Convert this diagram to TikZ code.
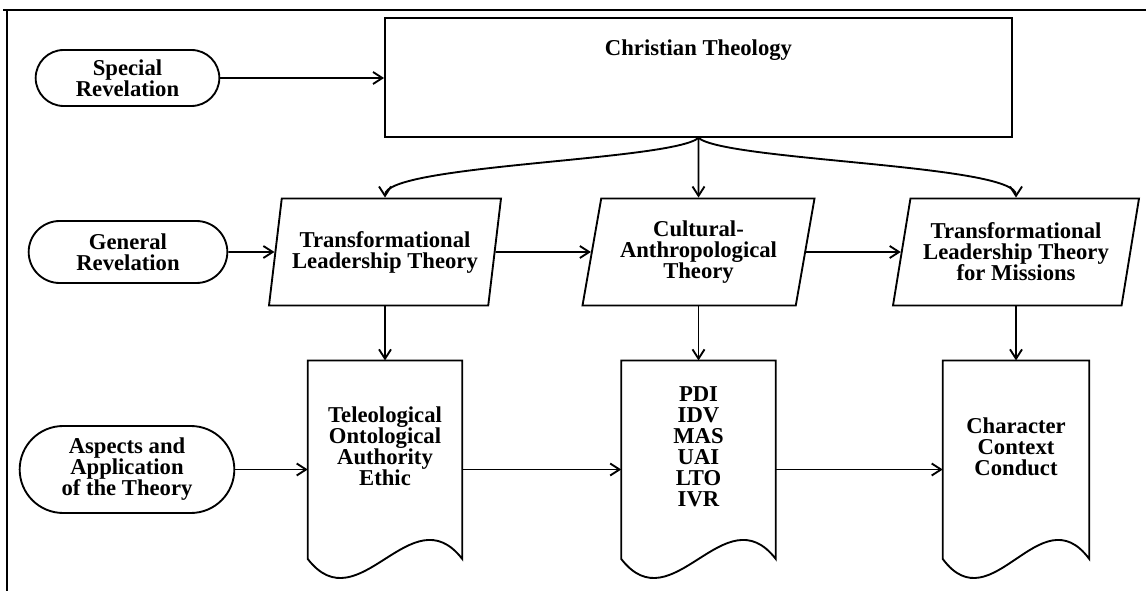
\documentclass[tikz,border=0pt]{standalone}
\usepackage{fontspec}
\setmainfont{Liberation Serif}
\usetikzlibrary{shapes.geometric,shapes.misc,arrows.meta,positioning,calc}

\begin{document}
\begin{tikzpicture}[
    x=0.75pt, y=-0.75pt,
    node distance=40.5pt,
    box/.style={draw, rectangle, line width=1.4pt, minimum width=470.25pt, minimum height=89.25pt, font=\bfseries\fontsize{17}{15.75}\selectfont},
    src/.style={draw, rounded rectangle, line width=1.4pt, align=center, inner sep=2pt, font=\bfseries\fontsize{17}{15.75}\selectfont},
    theory/.style={draw, trapezium, trapezium left angle=74, trapezium right angle=106, trapezium stretches body, minimum width=174pt, minimum height=80.25pt, line width=1.4pt, align=center, inner sep=1pt, font=\bfseries\fontsize{17}{15.75}\selectfont},
    docbox/.style={rectangle, minimum width=115.5pt, minimum height=129pt, inner sep=0pt, align=center, font=\bfseries\fontsize{17}{15.75}\selectfont},
    arrow/.style={-{Straight Barb[length=7pt,width=9pt]}, line width=1.4pt},
]
    \useasboundingbox (0,0) rectangle (1146,591);

    % Frame
    \draw[line width=1.2pt] (3,10) -- (1146,10);
    \draw[line width=1.2pt] (7,10) -- (7,591);

    % Theology on top
    \node[box, text height=12pt, text depth=45pt] (theo) at (698.5,77.5) {Christian Theology};

    % Sources on the left
    \node[src, minimum width=141.75pt, minimum height=42pt] (special) at (127.5,78) {Special\\Revelation};
    \node[src, minimum width=153pt, minimum height=46.5pt] (general) at (128,252) {General\\Revelation};
    \node[src, minimum width=165pt, minimum height=65.25pt] (aspects) at (127,469.5) {Aspects and\\Application\\of the Theory};

    % Theories
    \node[theory] (tlt) at (385,252) {Transformational\\Leadership Theory};
    \node[theory] (cat) at (698.5,252) {Cultural-\\Anthropological\\Theory};
    \node[theory, minimum width=184.5pt] (tltm) at (1016,252) {Transformational\\Leadership Theory\\for Missions};

    % Aspects of each theory
    \node[docbox, below=of tlt] (ethic) {Teleological\\Ontological\\Authority\\Ethic};
    \node[docbox, below=of cat] (dims) {PDI\\IDV\\MAS\\UAI\\LTO\\IVR};
    \node[docbox, below=of tltm, minimum width=109.5pt] (conduct) {Character\\Context\\Conduct};

    \foreach \d/\w in {ethic/51, dims/51, conduct/49}
        \draw[line width=1.4pt] (\d.north west) -- (\d.north east) -- ([yshift=-19.5pt]\d.south east)
            .. controls +(-\w,-66) and +(\w,66) .. ([yshift=-19.5pt]\d.south west) -- cycle;

    % Arrows
    \draw[arrow] (special.east) -- (special.east -| theo.west);
    \draw[arrow] (theo.south) .. controls +(-28,23) and +(0,-33) .. (tlt.north);
    \draw[arrow] (theo.south) -- (cat.north);
    \draw[arrow] (theo.south) .. controls +(28,23) and +(0,-33) .. (tltm.north);
    \draw[arrow] (general.east) -- (tlt.west);
    \draw[arrow] (tlt.east) -- (cat.west);
    \draw[arrow] (cat.east) -- (tltm.west);
    \draw[arrow] (tlt.south) -- (ethic.north);
    \draw[arrow] (cat.south) -- (dims.north);
    \draw[arrow] (tltm.south) -- (conduct.north);
    \draw[arrow] (aspects.east) -- (aspects.east -| ethic.west);
    \draw[arrow] (aspects.east -| ethic.east) -- (aspects.east -| dims.west);
    \draw[arrow] (aspects.east -| dims.east) -- (aspects.east -| conduct.west);

\end{tikzpicture}
\end{document}
